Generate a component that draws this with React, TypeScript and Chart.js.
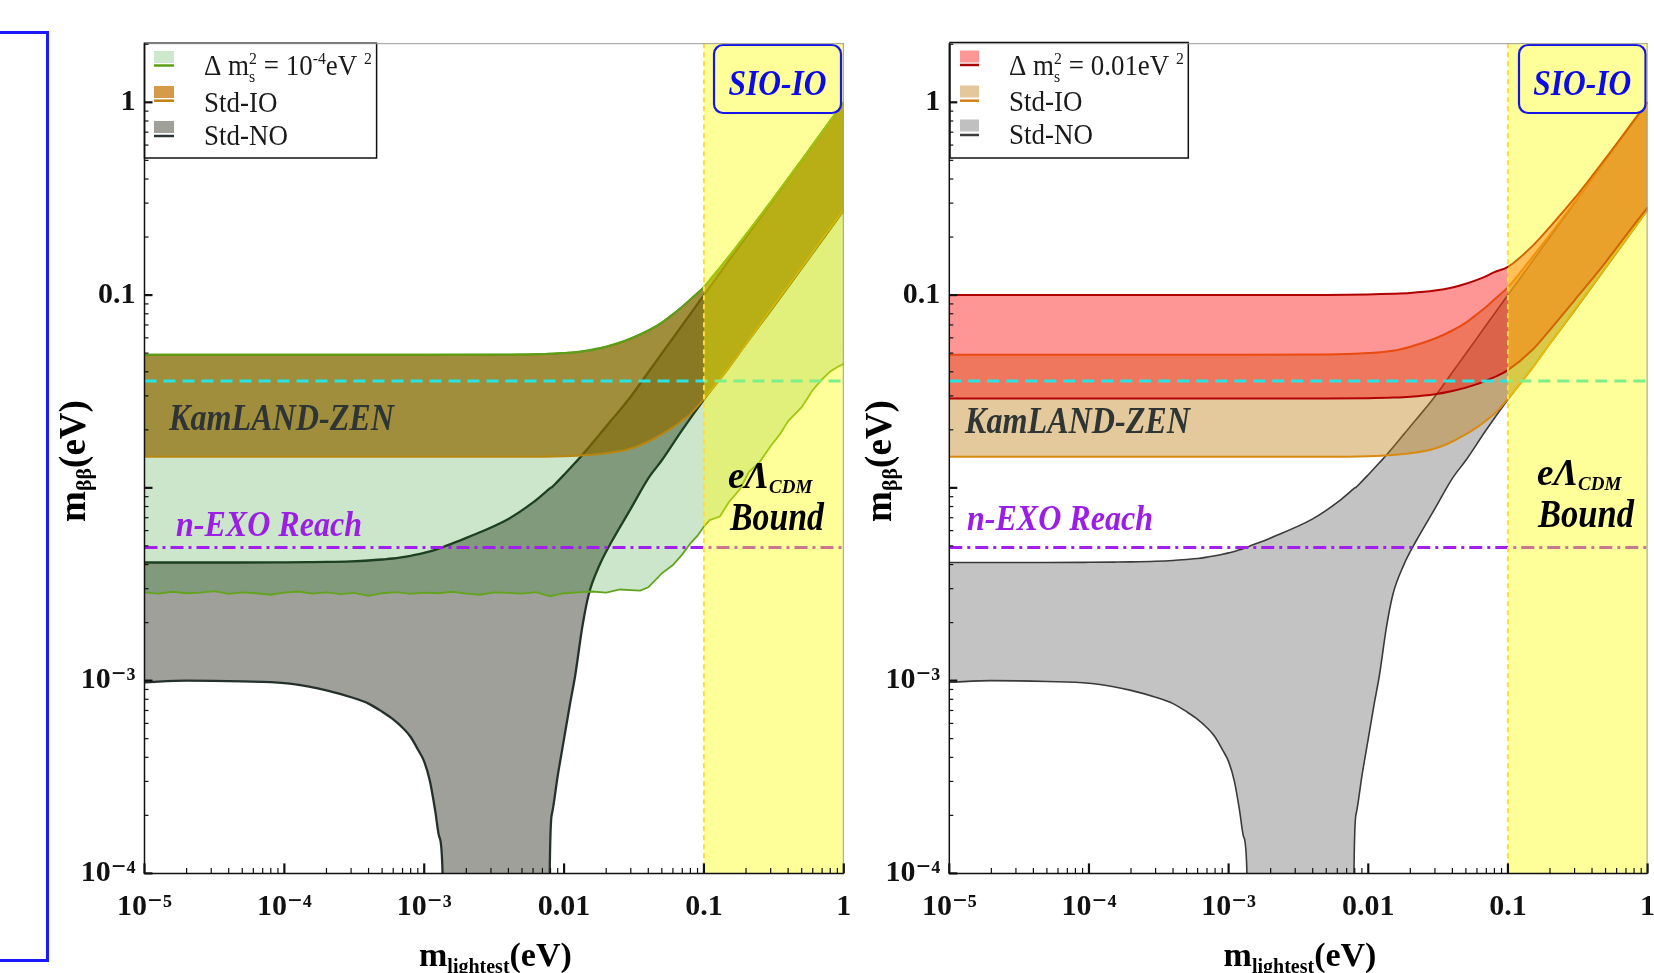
import React, { useEffect, useRef } from 'react';
import { Chart, registerables } from 'chart.js';

Chart.register(...registerables);

const SERIF = "'Liberation Serif', 'DejaVu Serif', serif";

// ---------- axes ----------
const X_TICKS = [1e-5, 1e-4, 1e-3, 0.01, 0.1, 1];
const X_TICK_LABELS = ['10⁻⁵', '10⁻⁴', '10⁻³', '0.01', '0.1', '1'];
const Y_TICKS = [1e-4, 1e-3, 0.01, 0.1, 1];
const Y_TICK_LABELS = ['10⁻⁴', '10⁻³', '', '0.1', '1'];
const X_MIN = 1e-5;
const X_MAX = 1;
const Y_MIN = 1e-4;
const Y_MAX = 2.026;

// ---------- reference lines ----------
const KAMLAND_ZEN = 0.0358;
const NEXO_REACH = 0.0049;
const CDM_BOUND = 0.1;
const LINE_X = [1e-5, 1];

// ---------- Std-NO band ----------
const X_NO = [1e-5, 2e-5, 5e-5, 1e-4, 1.5e-4, 2e-4, 3e-4, 4e-4, 5e-4, 6e-4, 7e-4, 8e-4, 9e-4, 1e-3, 1.1e-3, 1.2e-3, 1.28e-3, 1.35e-3, 1.4e-3, 2e-3, 4e-3, 6e-3, 7.8e-3, 7.9e-3, 8.2e-3, 9e-3, 0.01, 0.011, 0.012, 0.0135, 0.015, 0.018, 0.022, 0.03, 0.04, 0.05, 0.07, 0.1, 0.15, 0.2, 0.3, 0.5, 0.7, 1];
const NO_UPPER = [0.0041, 0.0041, 0.0041, 0.00411, 0.00412, 0.00413, 0.00416, 0.0042, 0.00425, 0.0043, 0.00437, 0.00444, 0.00452, 0.0046, 0.00468, 0.00477, 0.00485, 0.00492, 0.00497, 0.0055, 0.0069, 0.0084, 0.00985, 0.00993, 0.0101, 0.0108, 0.0117, 0.0126, 0.0135, 0.0148, 0.0162, 0.019, 0.0226, 0.0298, 0.0398, 0.0498, 0.0699, 0.1, 0.15, 0.2, 0.3, 0.5, 0.7, 1.0];
const NO_LOWER = [0.00098, 0.001, 0.00099, 0.00097, 0.00093, 0.00089, 0.00082, 0.00076, 0.00069, 0.00063, 0.00057, 0.00051, 0.00044, 0.00038, 0.0003, 0.00021, 0.000155, 0.000105, 0.000001, 0.000001, 0.000001, 0.000001, 0.000001, 0.000105, 0.000205, 0.00032, 0.0005, 0.00075, 0.00106, 0.0019, 0.0028, 0.004, 0.0053, 0.0078, 0.0112, 0.0139, 0.02, 0.0287, 0.042, 0.056, 0.083, 0.138, 0.193, 0.276];

// ---------- Std-IO band ----------
const X_IO = [1e-5, 1e-4, 1e-3, 0.005, 0.01, 0.015, 0.02, 0.03, 0.04, 0.05, 0.06, 0.07, 0.08, 0.1, 0.15, 0.2, 0.3, 0.5, 0.7, 1];
const IO_UPPER = [0.049, 0.049, 0.049, 0.0492, 0.05, 0.0514, 0.054, 0.0595, 0.0655, 0.072, 0.0795, 0.087, 0.095, 0.11, 0.158, 0.206, 0.304, 0.502, 0.701, 1.0];
const IO_LOWER = [0.0145, 0.0145, 0.0145, 0.0145, 0.0146, 0.0148, 0.0151, 0.016, 0.0174, 0.019, 0.0206, 0.0224, 0.0242, 0.029, 0.042, 0.056, 0.084, 0.139, 0.195, 0.278];

// ---------- Δm_s² = 10⁻⁴ eV² band (left) ----------
const X_GREEN = [1e-5, 1.26e-5, 1.58e-5, 2e-5, 2.51e-5, 3.16e-5, 3.98e-5, 5.01e-5, 6.31e-5, 7.94e-5,
  1e-4, 1.26e-4, 1.58e-4, 2e-4, 2.51e-4, 3.16e-4, 3.98e-4, 5.01e-4, 6.31e-4, 7.94e-4,
  1e-3, 1.26e-3, 1.58e-3, 2e-3, 2.51e-3, 3.16e-3, 3.98e-3, 5.01e-3, 6.31e-3, 7.94e-3,
  0.01, 0.0126, 0.0158, 0.02, 0.0251,
  0.03, 0.035, 0.04, 0.05, 0.06, 0.07, 0.08, 0.09, 0.1, 0.11, 0.13, 0.15, 0.18, 0.21, 0.25, 0.3, 0.35, 0.4, 0.5, 0.6, 0.7, 0.8, 0.9, 1];
const GREEN_UPPER = [0.049, 0.049, 0.049, 0.049, 0.049, 0.049, 0.049, 0.049, 0.049, 0.049,
  0.049, 0.049, 0.049, 0.049, 0.049, 0.049, 0.049, 0.049, 0.049, 0.049,
  0.049, 0.049, 0.049, 0.049, 0.049, 0.049, 0.049, 0.0492, 0.0493, 0.0496,
  0.05, 0.0508, 0.0522, 0.054, 0.0565,
  0.0595, 0.0625, 0.0655, 0.072, 0.0795, 0.087, 0.095, 0.1025, 0.11, 0.12, 0.139, 0.158, 0.187, 0.216, 0.255, 0.304, 0.353, 0.403, 0.502, 0.602, 0.701, 0.801, 0.901, 1.0];
const GREEN_LOWER = [0.00287, 0.00283, 0.00289, 0.00284, 0.00286, 0.00291, 0.00282, 0.00287, 0.00284, 0.00279,
  0.00286, 0.0029, 0.00283, 0.00287, 0.00281, 0.00285, 0.00275, 0.00284, 0.00288, 0.00282,
  0.00286, 0.00284, 0.00289, 0.00283, 0.00279, 0.00287, 0.00285, 0.00283, 0.00288, 0.00274,
  0.00284, 0.00287, 0.0029, 0.00286, 0.00297,
  0.00295, 0.00293, 0.00305, 0.0036, 0.00398, 0.00452, 0.00515, 0.00565, 0.0063, 0.0068, 0.0071, 0.0084, 0.0098, 0.0121, 0.0136, 0.0165, 0.019, 0.0222, 0.0262, 0.0322, 0.0366, 0.0402, 0.0424, 0.044];

// ---------- Δm_s² = 0.01 eV² band (right) ----------
const X_RED = [1e-5, 1e-4, 1e-3, 0.005, 0.01, 0.015, 0.02, 0.03, 0.04, 0.05, 0.06, 0.07, 0.08, 0.1, 0.15, 0.2, 0.3, 0.5, 0.7, 1];
const RED_UPPER = [0.1, 0.1, 0.1, 0.1002, 0.1007, 0.1015, 0.1025, 0.1055, 0.1095, 0.1145, 0.12, 0.1255, 0.1315, 0.14, 0.18, 0.226, 0.318, 0.512, 0.709, 1.005];
const RED_LOWER = [0.0291, 0.0291, 0.0291, 0.0291, 0.0292, 0.0294, 0.0297, 0.0306, 0.0318, 0.0331, 0.0345, 0.036, 0.0375, 0.0408, 0.052, 0.066, 0.094, 0.148, 0.204, 0.285];

// ---------- legend texts ----------
type Part = { t: string; size: number; dy?: number; stack?: boolean };
const LEGEND_LEFT: Part[][] = [
  [{ t: 'Δ m', size: 29 }, { t: 's', size: 17, dy: 7 }, { t: '2', size: 17, dy: -11, stack: true }, { t: ' = 10', size: 29 }, { t: '-4', size: 17, dy: -11 }, { t: 'eV', size: 29 }, { t: ' ', size: 29 }, { t: '2', size: 17, dy: -11 }],
  [{ t: 'Std-IO', size: 29 }],
  [{ t: 'Std-NO', size: 29 }],
];
const LEGEND_RIGHT: Part[][] = [
  [{ t: 'Δ m', size: 29 }, { t: 's', size: 17, dy: 7 }, { t: '2', size: 17, dy: -11, stack: true }, { t: ' = 0.01eV', size: 29 }, { t: ' ', size: 29 }, { t: '2', size: 17, dy: -11 }],
  [{ t: 'Std-IO', size: 29 }],
  [{ t: 'Std-NO', size: 29 }],
];
const Y_TITLE: Part[] = [{ t: 'm', size: 37 }, { t: 'ββ', size: 22, dy: 6 }, { t: '(eV)', size: 37 }];
const X_TITLE: Part[] = [{ t: 'm', size: 34 }, { t: 'lightest', size: 20, dy: 7 }, { t: '(eV)', size: 34 }];

const xy = (xs: number[], ys: number[]) => xs.map((x, i) => ({ x, y: ys[i] }));

function line(label: string, xs: number[], ys: number[], color: string, width: number, extra: any = {}) {
  return {
    label, data: xy(xs, ys), borderColor: color, borderWidth: width, pointRadius: 0,
    fill: false, cubicInterpolationMode: 'monotone', ...extra,
  };
}

function refLines() {
  return [
    line('n-EXO Reach', LINE_X, [NEXO_REACH, NEXO_REACH], '#a21ff0', 3, { borderDash: [13, 5, 3, 5], cubicInterpolationMode: 'default', tension: 0 }),
    line('KamLAND-ZEN', LINE_X, [KAMLAND_ZEN, KAMLAND_ZEN], '#26e4e4', 3, { borderDash: [12, 7], cubicInterpolationMode: 'default', tension: 0 }),
  ];
}

function richWidth(ctx: CanvasRenderingContext2D, parts: Part[], weight: string, style: string, sx: number) {
  let cx = 0, prevStart = 0, prevW = 0;
  for (const p of parts) {
    ctx.font = `${style} ${weight} ${p.size}px ${SERIF}`;
    const w = ctx.measureText(p.t).width * sx;
    if (p.stack) { cx = prevStart + Math.max(prevW, w); } else { prevStart = cx; prevW = w; cx += w; }
  }
  return cx;
}

function drawRich(ctx: CanvasRenderingContext2D, parts: Part[], x: number, y: number, weight: string, style: string, color: string, sx: number) {
  let cx = x, prevStart = x, prevW = 0;
  ctx.save();
  ctx.fillStyle = color;
  ctx.textAlign = 'left';
  ctx.textBaseline = 'alphabetic';
  for (const p of parts) {
    ctx.font = `${style} ${weight} ${p.size}px ${SERIF}`;
    const w = ctx.measureText(p.t).width * sx;
    const px = p.stack ? prevStart : cx;
    ctx.save();
    ctx.translate(px, y + (p.dy || 0));
    ctx.scale(sx, 1);
    ctx.fillText(p.t, 0, 0);
    ctx.restore();
    if (p.stack) { cx = prevStart + Math.max(prevW, w); } else { prevStart = cx; prevW = w; cx += w; }
  }
  ctx.restore();
}

function fitText(ctx: CanvasRenderingContext2D, text: string, x: number, y: number, font: string, width: number, color: string) {
  ctx.save();
  ctx.font = font;
  ctx.textAlign = 'left';
  ctx.textBaseline = 'alphabetic';
  const w = ctx.measureText(text).width;
  ctx.translate(x, y);
  ctx.scale(width / w, 1);
  ctx.fillStyle = color;
  ctx.fillText(text, 0, 0);
  ctx.restore();
}

interface PanelCfg {
  left: number; width: number; yAxisWidth: number; padRight: number;
  datasets: any[];
  legendBox: number[]; swatchX: number; swatchW: number; textX: number;
  swatchY: number[]; lineY: number[]; baseY: number[];
  swatchFill: string[]; swatchLine: string[]; legend: Part[][];
  kam: number[]; nexo: number[]; lcdm: number[]; bound: number[];
  sioBox: number[]; yTitle: number[]; xTitle: number[];
}

const LEFT_CFG: PanelCfg = {
  left: 0, width: 856, yAxisWidth: 144.5, padRight: 12.2,
  datasets: [
    ...refLines(),
    line('Std-IO upper', X_IO, IO_UPPER, '#5c9e18', 2),
    line('Std-IO lower', X_IO, IO_LOWER, '#b8860f', 2, { fill: '-1', backgroundColor: 'rgba(141,106,0,0.7)' }),
    line('Δm² upper', X_GREEN, GREEN_UPPER, '#5c9e18', 2),
    line('Δm² lower', X_GREEN, GREEN_LOWER, '#62a41c', 1.8, { fill: '-1', backgroundColor: 'rgba(0,128,0,0.2)', cubicInterpolationMode: 'default', tension: 0 }),
    line('Std-NO upper', X_NO, NO_UPPER, '#25302c', 2.3),
    line('Std-NO lower', X_NO, NO_LOWER, '#25302c', 2.3, { fill: '-1', backgroundColor: 'rgb(160,160,154)' }),
  ],
  legendBox: [144.5, 43.2, 376.6, 158], swatchX: 154, swatchW: 20, textX: 204,
  swatchY: [51, 86, 121], lineY: [65.5, 100.7, 136], baseY: [75, 111.5, 145],
  swatchFill: ['rgb(205,232,204)', 'rgb(214,155,72)', 'rgb(160,160,154)'],
  swatchLine: ['#5aa014', '#c08010', '#2a3634'],
  legend: LEGEND_LEFT,
  kam: [169, 430, 225], nexo: [176, 536, 186], lcdm: [728, 488], bound: [730, 530, 94],
  sioBox: [714, 45, 841, 113], yTitle: [85, 461], xTitle: [419, 966],
};

const RIGHT_CFG: PanelCfg = {
  left: 856, width: 798, yAxisWidth: 93.3, padRight: 6.4,
  datasets: [
    ...refLines(),
    line('Δm² upper', X_RED, RED_UPPER, '#b00000', 2),
    line('Δm² lower', X_RED, RED_LOWER, '#b00000', 2, { fill: '-1', backgroundColor: 'rgba(255,12,12,0.43)' }),
    line('Std-IO upper', X_IO, IO_UPPER, '#d97a12', 2),
    line('Std-IO lower', X_IO, IO_LOWER, '#d98a12', 2, { fill: '-1', backgroundColor: 'rgba(188,126,19,0.42)' }),
    line('Std-NO upper', X_NO, NO_UPPER, '#3a3a3a', 1.6),
    line('Std-NO lower', X_NO, NO_LOWER, '#3a3a3a', 1.6, { fill: '-1', backgroundColor: 'rgb(195,195,195)' }),
  ],
  legendBox: [950, 42.5, 1188.3, 158], swatchX: 960, swatchW: 19, textX: 1009,
  swatchY: [50.5, 85.5, 119.5], lineY: [65, 100.7, 135], baseY: [75, 110.5, 144],
  swatchFill: ['rgb(255,150,150)', 'rgb(228,200,155)', 'rgb(192,192,192)'],
  swatchLine: ['#aa0000', '#d28214', '#3c3c3c'],
  legend: LEGEND_RIGHT,
  kam: [965, 433, 225], nexo: [967, 530, 186], lcdm: [1537, 485], bound: [1538, 527, 96],
  sioBox: [1519, 45, 1645.5, 113], yTitle: [891, 461], xTitle: [1223.6, 966],
};

function makePlugin(cfg: PanelCfg) {
  return {
    id: 'decor',
    afterDatasetsDraw(chart: any) {
      const { ctx, chartArea: a } = chart;
      const xs = chart.scales.x;
      const x0 = xs.getPixelForValue(CDM_BOUND);
      ctx.save();
      ctx.fillStyle = 'rgba(255,255,0,0.4)';
      ctx.fillRect(x0, a.top, a.right - x0, a.bottom - a.top);
      ctx.strokeStyle = 'rgb(255,220,60)';
      ctx.lineWidth = 2;
      ctx.setLineDash([5, 4]);
      ctx.beginPath();
      ctx.moveTo(x0, a.top);
      ctx.lineTo(x0, a.bottom);
      ctx.stroke();
      ctx.restore();
    },
    afterDraw(chart: any) {
      const { ctx, chartArea: a } = chart;
      const xs = chart.scales.x;
      const ys = chart.scales.y;
      const o = cfg.left;
      ctx.save();
      ctx.translate(-o, 0);

      // text labels
      fitText(ctx, 'KamLAND-ZEN', cfg.kam[0], cfg.kam[1], `italic bold 37px ${SERIF}`, cfg.kam[2], '#2f3535');
      fitText(ctx, 'n-EXO Reach', cfg.nexo[0], cfg.nexo[1], `italic bold 36px ${SERIF}`, cfg.nexo[2], '#9b1ee6');
      drawRich(ctx, [{ t: 'eΛ', size: 37 }, { t: 'CDM', size: 19, dy: 5 }], cfg.lcdm[0], cfg.lcdm[1], 'bold', 'italic', '#000', 1);
      fitText(ctx, 'Bound', cfg.bound[0], cfg.bound[1], `italic bold 39px ${SERIF}`, cfg.bound[2], '#000');

      // SIO-IO box
      const [sx0, sy0, sx1, sy1] = cfg.sioBox;
      ctx.beginPath();
      ctx.roundRect(sx0, sy0, sx1 - sx0, sy1 - sy0, 9);
      ctx.fillStyle = 'rgb(255,255,153)';
      ctx.fill();
      ctx.strokeStyle = 'rgb(20,20,235)';
      ctx.lineWidth = 2.2;
      ctx.stroke();
      fitText(ctx, 'SIO-IO', (sx0 + sx1) / 2 - 49, 95, `italic bold 35px ${SERIF}`, 98, 'rgb(10,10,235)');

      // legend
      const [bx0, by0, bx1, by1] = cfg.legendBox;
      ctx.fillStyle = '#fff';
      ctx.fillRect(bx0, by0, bx1 - bx0, by1 - by0);
      ctx.strokeStyle = '#111';
      ctx.lineWidth = 1.5;
      ctx.strokeRect(bx0, by0, bx1 - bx0, by1 - by0);
      for (let i = 0; i < 3; i++) {
        ctx.fillStyle = cfg.swatchFill[i];
        ctx.fillRect(cfg.swatchX, cfg.swatchY[i], cfg.swatchW, 12);
        ctx.strokeStyle = cfg.swatchLine[i];
        ctx.lineWidth = 2.5;
        ctx.beginPath();
        ctx.moveTo(cfg.swatchX, cfg.lineY[i]);
        ctx.lineTo(cfg.swatchX + cfg.swatchW, cfg.lineY[i]);
        ctx.stroke();
        drawRich(ctx, cfg.legend[i], cfg.textX, cfg.baseY[i], 'normal', 'normal', '#1a1a1a', 0.93);
      }

      // axis titles
      ctx.save();
      ctx.translate(cfg.yTitle[0], cfg.yTitle[1]);
      ctx.rotate(-Math.PI / 2);
      const tw = richWidth(ctx, Y_TITLE, 'bold', 'normal', 1);
      drawRich(ctx, Y_TITLE, -tw / 2, 0, 'bold', 'normal', '#000', 1);
      ctx.restore();
      drawRich(ctx, X_TITLE, cfg.xTitle[0], cfg.xTitle[1], 'bold', 'normal', '#000', 1);
      ctx.restore();

      // frame
      ctx.save();
      ctx.strokeStyle = '#9a9a9a';
      ctx.lineWidth = 1;
      ctx.beginPath();
      ctx.moveTo(a.left, a.top + 0.5);
      ctx.lineTo(a.right, a.top + 0.5);
      ctx.moveTo(a.right - 0.5, a.top);
      ctx.lineTo(a.right - 0.5, a.bottom);
      ctx.stroke();
      ctx.strokeStyle = '#111';
      ctx.lineWidth = 1.5;
      ctx.beginPath();
      ctx.moveTo(a.left, a.top);
      ctx.lineTo(a.left, a.bottom);
      ctx.lineTo(a.right, a.bottom);
      ctx.stroke();
      // inward ticks
      for (let d = -4; d <= 0; d++) {
        for (let k = 1; k <= 9; k++) {
          const v = k * Math.pow(10, d);
          if (v > Y_MAX) break;
          const py = ys.getPixelForValue(v);
          ctx.lineWidth = k === 1 ? 2.2 : 1.2;
          ctx.beginPath();
          ctx.moveTo(a.left, py);
          ctx.lineTo(a.left + (k === 1 ? 8 : 4), py);
          ctx.stroke();
        }
      }
      for (let d = -5; d <= 0; d++) {
        for (let k = 1; k <= 9; k++) {
          const v = k * Math.pow(10, d);
          if (v > X_MAX * 1.0001) break;
          const px = xs.getPixelForValue(v);
          ctx.lineWidth = k === 1 ? 2.2 : 1.2;
          ctx.beginPath();
          ctx.moveTo(px, a.bottom);
          ctx.lineTo(px, a.bottom - (k === 1 ? 10 : 5.5));
          ctx.stroke();
        }
      }
      ctx.restore();
    },
  };
}

function zeroPad(s: any) {
  s.paddingLeft = 0;
  s.paddingRight = 0;
  s.paddingTop = 0;
  s.paddingBottom = 0;
}

function buildConfig(cfg: PanelCfg): any {
  const tickFont = { family: SERIF, size: 30, weight: 'bold' as const };
  return {
    type: 'line',
    data: { datasets: cfg.datasets },
    options: {
      responsive: false,
      animation: false,
      devicePixelRatio: 1,
      events: [],
      layout: { padding: { left: 0, right: cfg.padRight, top: 43.2, bottom: 0 } },
      plugins: { legend: { display: false }, tooltip: { enabled: false } },
      elements: { point: { radius: 0 } },
      scales: {
        x: {
          type: 'logarithmic', min: X_MIN, max: X_MAX,
          afterFit: (s: any) => { s.height = 99.6; zeroPad(s); },
          afterBuildTicks: (s: any) => { s.ticks = X_TICKS.map((v) => ({ value: v })); },
          ticks: {
            autoSkip: false, maxRotation: 0, minRotation: 0, padding: 16, color: '#111', font: tickFont,
            callback: (_v: any, i: number) => X_TICK_LABELS[i],
          },
          grid: { display: false, drawTicks: false },
          border: { display: false },
        },
        y: {
          type: 'logarithmic', min: Y_MIN, max: Y_MAX,
          afterFit: (s: any) => { s.width = cfg.yAxisWidth; zeroPad(s); },
          afterBuildTicks: (s: any) => { s.ticks = Y_TICKS.map((v) => ({ value: v })); },
          ticks: {
            autoSkip: false, padding: 9, color: '#111', font: tickFont,
            callback: (_v: any, i: number) => Y_TICK_LABELS[i],
          },
          grid: { display: false, drawTicks: false },
          border: { display: false },
        },
      },
    },
    plugins: [makePlugin(cfg)],
  };
}

function Panel({ cfg }: { cfg: PanelCfg }) {
  const ref = useRef<HTMLCanvasElement>(null);
  useEffect(() => {
    const chart = new Chart(ref.current as HTMLCanvasElement, buildConfig(cfg));
    return () => chart.destroy();
  }, [cfg]);
  return (
    <canvas
      ref={ref}
      width={cfg.width}
      height={973}
      style={{ position: 'absolute', left: cfg.left, top: 0, width: cfg.width, height: 973 }}
    />
  );
}

export default function App() {
  return (
    <div style={{ position: 'fixed', left: 0, top: 0, width: 1654, height: 973, background: '#fff', overflow: 'hidden' }}>
      <Panel cfg={LEFT_CFG} />
      <Panel cfg={RIGHT_CFG} />
      <div
        style={{
          position: 'absolute', left: -10, top: 31, width: 58.5, height: 931,
          boxSizing: 'border-box', border: '3.5px solid #1a1aff',
        }}
      />
    </div>
  );
}
